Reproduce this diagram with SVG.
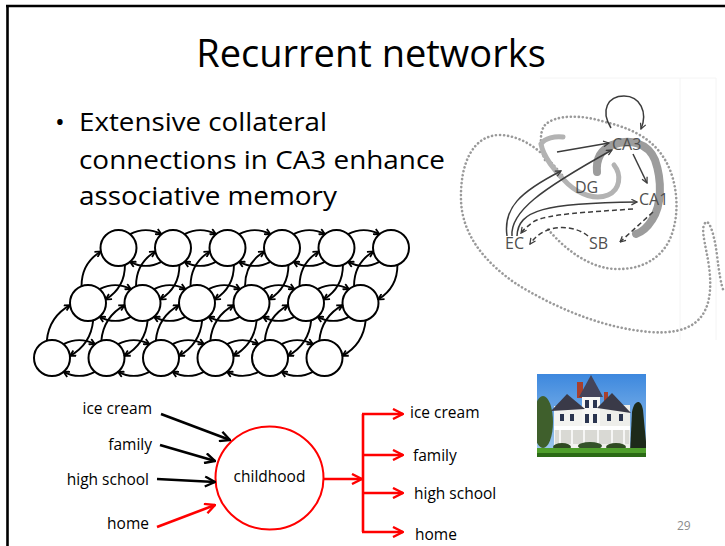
<svg xmlns="http://www.w3.org/2000/svg" width="725" height="546" viewBox="0 0 725 546">
<defs>
<style>
.txt{font-family:'Open Sans','Liberation Sans',sans-serif;fill:#000}
.lbl{font-family:'Open Sans','Liberation Sans',sans-serif;font-size:15.5px;fill:#000}
.hipt{font-family:'Open Sans','Liberation Sans',sans-serif;font-size:16px;fill:#4f4f4f}
.node circle{fill:#fff;stroke:#000;stroke-width:2}
.net path{fill:none;stroke:#000;stroke-width:1.9;marker-end:url(#an)}
.dot{fill:none;stroke:#9a9a9a;stroke-width:2.6;stroke-linecap:round;stroke-dasharray:0.1 3.9}
.ha{fill:none;stroke:#3c3c3c;stroke-width:1.5;marker-end:url(#ah)}
.hd{fill:none;stroke:#3c3c3c;stroke-width:1.5;stroke-dasharray:5 3;marker-end:url(#ah)}
.bk{fill:none;stroke:#000;stroke-width:2.6;marker-end:url(#ab)}
.rd{fill:none;stroke:#f00;stroke-width:2.6;marker-end:url(#ar)}
</style>
<marker id="an" viewBox="0 0 10 10" refX="9" refY="5" markerWidth="7.5" markerHeight="7.5" markerUnits="userSpaceOnUse" orient="auto"><path d="M1.5,1 L9,5 L1.5,9" fill="none" stroke="#000" stroke-width="2.4"/></marker>
<marker id="ab" viewBox="0 0 12 12" refX="11" refY="6" markerWidth="12" markerHeight="12" markerUnits="userSpaceOnUse" orient="auto"><path d="M1,1 L11,6 L1,11" fill="none" stroke="#000" stroke-width="2.4"/></marker>
<marker id="ar" viewBox="0 0 12 12" refX="11" refY="6" markerWidth="12" markerHeight="12" markerUnits="userSpaceOnUse" orient="auto"><path d="M1,1 L11,6 L1,11" fill="none" stroke="#f00" stroke-width="2.4"/></marker>
<marker id="ah" viewBox="0 0 10 10" refX="9" refY="5" markerWidth="7" markerHeight="7" markerUnits="userSpaceOnUse" orient="auto"><path d="M1,1 L9,5 L1,9" fill="none" stroke="#3c3c3c" stroke-width="1.8"/></marker>
<linearGradient id="sky" x1="0" y1="0" x2="0" y2="1"><stop offset="0" stop-color="#3d88de"/><stop offset="1" stop-color="#a6cdef"/></linearGradient>
<clipPath id="photoclip"><rect x="537" y="374" width="109" height="83"/></clipPath>
</defs>
<rect width="725" height="546" fill="#fff"/>
<!-- slide border -->
<path d="M6,6 H725 M7.5,6 V546" fill="none" stroke="#000" stroke-width="2.6"/>

<!-- title and bullet -->
<text class="txt" x="371" y="67" font-size="38" text-anchor="middle">Recurrent networks</text>
<text class="txt" x="55" y="131" font-size="26">•</text>
<text class="txt" x="79" y="131" font-size="26" textLength="248" lengthAdjust="spacingAndGlyphs">Extensive collateral</text>
<text class="txt" x="79" y="169" font-size="26" textLength="366" lengthAdjust="spacingAndGlyphs">connections in CA3 enhance</text>
<text class="txt" x="79" y="205" font-size="26" textLength="258" lengthAdjust="spacingAndGlyphs">associative memory</text>

<!-- hippocampus figure -->
<g id="hippocampus">
<path d="M540,78 H716 M680,78 V340 M716,78 V340" fill="none" stroke="#f4f4f4" stroke-width="1"/>
<path class="dot" d="M562,175 C548,158 528,136 500,135 C472,135 460,165 461,200 C462,235 485,262 515,283 C550,305 600,328 650,332 C690,335 708,320 710,290 C712,262 700,235 704,225 C708,215 714,232 717,255 C719,272 721,285 724,292"/>
<path class="dot" d="M545,160 C540,148 539,132 545,125 C555,115 580,114 605,122 C640,130 660,145 670,170 C678,190 680,220 668,243 C658,260 640,270 615,269 C590,268 565,250 547,228"/>
<path d="M563,137 C555,136 545,138 541,144 C543,156 555,172 568,184 C580,195 596,200 608,195 C620,190 622,175 614,165" fill="none" stroke="#b3b3b3" stroke-width="5" stroke-linecap="round"/>
<path d="M597,172 C596,160 600,150 612,145 C630,138 648,143 655,160 C662,180 662,205 652,220 C647,228 642,232 636,234" fill="none" stroke="#9c9c9c" stroke-width="8" stroke-linecap="round"/>
<path class="ha" d="M557,152 L609,143"/>
<path class="ha" d="M633,154 L647,183"/>
<path class="ha" d="M507,236 C503,208 520,192 561,171"/>
<path class="ha" d="M512,236 C510,212 540,190 612,150"/>
<path class="ha" d="M517,236 C518,210 545,203 637,202"/>
<path class="hd" d="M633,209 C590,212 545,214 533,222 C528,226 524,229 521,233"/>
<path class="hd" d="M588,236 C575,225 545,222 530,244"/>
<path class="hd" d="M653,212 L620,242"/>
<path class="ha" d="M611,128 C600,110 608,96 624,96 C640,96 648,112 641,129"/>
<text class="hipt" x="612" y="150">CA3</text>
<text class="hipt" x="575" y="193">DG</text>
<text class="hipt" x="639" y="205">CA1</text>
<text class="hipt" x="505" y="249">EC</text>
<text class="hipt" x="589" y="249">SB</text>
</g>

<!-- network nodes -->
<g class="node">
<g id="t1"><circle cx="118.5" cy="248" r="18"/></g>
<g id="t2"><circle cx="173" cy="248" r="18"/></g>
<g id="t3"><circle cx="227.5" cy="248" r="18"/></g>
<g id="t4"><circle cx="282" cy="248" r="18"/></g>
<g id="t5"><circle cx="336.5" cy="248" r="18"/></g>
<g id="t6"><circle cx="391" cy="248" r="18"/></g>
<g id="m1"><circle cx="88" cy="303" r="18"/></g>
<g id="m2"><circle cx="142.5" cy="303" r="18"/></g>
<g id="m3"><circle cx="197" cy="303" r="18"/></g>
<g id="m4"><circle cx="251.5" cy="303" r="18"/></g>
<g id="m5"><circle cx="306" cy="303" r="18"/></g>
<g id="m6"><circle cx="360.5" cy="303" r="18"/></g>
<g id="b1"><circle cx="52" cy="358" r="18"/></g>
<g id="b2"><circle cx="106.5" cy="358" r="18"/></g>
<g id="b3"><circle cx="161" cy="358" r="18"/></g>
<g id="b4"><circle cx="215.5" cy="358" r="18"/></g>
<g id="b5"><circle cx="270" cy="358" r="18"/></g>
<g id="b6"><circle cx="324.5" cy="358" r="18"/></g>
</g>

<!-- network connectors -->
<g id="net-connectors" class="net">
<g transform="translate(118.5,248)"><path d="M11.6,-13.8Q27.25,-22 42.9,-13.8"/><path d="M42.9,13.8Q27.25,22 11.6,13.8"/></g>
<g transform="translate(173,248)"><path d="M11.6,-13.8Q27.25,-22 42.9,-13.8"/><path d="M42.9,13.8Q27.25,22 11.6,13.8"/></g>
<g transform="translate(227.5,248)"><path d="M11.6,-13.8Q27.25,-22 42.9,-13.8"/><path d="M42.9,13.8Q27.25,22 11.6,13.8"/></g>
<g transform="translate(282,248)"><path d="M11.6,-13.8Q27.25,-22 42.9,-13.8"/><path d="M42.9,13.8Q27.25,22 11.6,13.8"/></g>
<g transform="translate(336.5,248)"><path d="M11.6,-13.8Q27.25,-22 42.9,-13.8"/><path d="M42.9,13.8Q27.25,22 11.6,13.8"/></g>
<g transform="translate(88,303)"><path d="M11.6,-13.8Q27.25,-22 42.9,-13.8"/><path d="M42.9,13.8Q27.25,22 11.6,13.8"/></g>
<g transform="translate(142.5,303)"><path d="M11.6,-13.8Q27.25,-22 42.9,-13.8"/><path d="M42.9,13.8Q27.25,22 11.6,13.8"/></g>
<g transform="translate(197,303)"><path d="M11.6,-13.8Q27.25,-22 42.9,-13.8"/><path d="M42.9,13.8Q27.25,22 11.6,13.8"/></g>
<g transform="translate(251.5,303)"><path d="M11.6,-13.8Q27.25,-22 42.9,-13.8"/><path d="M42.9,13.8Q27.25,22 11.6,13.8"/></g>
<g transform="translate(306,303)"><path d="M11.6,-13.8Q27.25,-22 42.9,-13.8"/><path d="M42.9,13.8Q27.25,22 11.6,13.8"/></g>
<g transform="translate(52,358)"><path d="M11.6,-13.8Q27.25,-22 42.9,-13.8"/><path d="M42.9,13.8Q27.25,22 11.6,13.8"/></g>
<g transform="translate(106.5,358)"><path d="M11.6,-13.8Q27.25,-22 42.9,-13.8"/><path d="M42.9,13.8Q27.25,22 11.6,13.8"/></g>
<g transform="translate(161,358)"><path d="M11.6,-13.8Q27.25,-22 42.9,-13.8"/><path d="M42.9,13.8Q27.25,22 11.6,13.8"/></g>
<g transform="translate(215.5,358)"><path d="M11.6,-13.8Q27.25,-22 42.9,-13.8"/><path d="M42.9,13.8Q27.25,22 11.6,13.8"/></g>
<g transform="translate(270,358)"><path d="M11.6,-13.8Q27.25,-22 42.9,-13.8"/><path d="M42.9,13.8Q27.25,22 11.6,13.8"/></g>
<g transform="translate(52,358) rotate(-56.8)"><path d="M11.6,-13.8Q32.85,-25 54.1,-13.8"/><path d="M54.1,13.8Q32.85,25 11.6,13.8"/></g>
<g transform="translate(106.5,358) rotate(-56.8)"><path d="M11.6,-13.8Q32.85,-25 54.1,-13.8"/><path d="M54.1,13.8Q32.85,25 11.6,13.8"/></g>
<g transform="translate(161,358) rotate(-56.8)"><path d="M11.6,-13.8Q32.85,-25 54.1,-13.8"/><path d="M54.1,13.8Q32.85,25 11.6,13.8"/></g>
<g transform="translate(215.5,358) rotate(-56.8)"><path d="M11.6,-13.8Q32.85,-25 54.1,-13.8"/><path d="M54.1,13.8Q32.85,25 11.6,13.8"/></g>
<g transform="translate(270,358) rotate(-56.8)"><path d="M11.6,-13.8Q32.85,-25 54.1,-13.8"/><path d="M54.1,13.8Q32.85,25 11.6,13.8"/></g>
<g transform="translate(324.5,358) rotate(-56.8)"><path d="M11.6,-13.8Q32.85,-25 54.1,-13.8"/><path d="M54.1,13.8Q32.85,25 11.6,13.8"/></g>
<g transform="translate(88,303) rotate(-61)"><path d="M11.6,-13.8Q31.45,-25 51.3,-13.8"/><path d="M51.3,13.8Q31.45,25 11.6,13.8"/></g>
<g transform="translate(142.5,303) rotate(-61)"><path d="M11.6,-13.8Q31.45,-25 51.3,-13.8"/><path d="M51.3,13.8Q31.45,25 11.6,13.8"/></g>
<g transform="translate(197,303) rotate(-61)"><path d="M11.6,-13.8Q31.45,-25 51.3,-13.8"/><path d="M51.3,13.8Q31.45,25 11.6,13.8"/></g>
<g transform="translate(251.5,303) rotate(-61)"><path d="M11.6,-13.8Q31.45,-25 51.3,-13.8"/><path d="M51.3,13.8Q31.45,25 11.6,13.8"/></g>
<g transform="translate(306,303) rotate(-61)"><path d="M11.6,-13.8Q31.45,-25 51.3,-13.8"/><path d="M51.3,13.8Q31.45,25 11.6,13.8"/></g>
<g transform="translate(360.5,303) rotate(-61)"><path d="M11.6,-13.8Q31.45,-25 51.3,-13.8"/><path d="M51.3,13.8Q31.45,25 11.6,13.8"/></g>
</g>

<!-- association diagram -->
<g id="in-icecream"><text class="lbl" x="152" y="414" text-anchor="end">ice cream</text></g>
<g id="in-family"><text class="lbl" x="152" y="450" text-anchor="end">family</text></g>
<g id="in-highschool"><text class="lbl" x="149" y="485" text-anchor="end">high school</text></g>
<g id="in-home"><text class="lbl" x="149" y="529" text-anchor="end">home</text></g>
<g id="childhood"><ellipse cx="269.5" cy="478" rx="54" ry="51.5" fill="none" stroke="#f00" stroke-width="2"/><text class="lbl" x="269.5" y="482" text-anchor="middle">childhood</text></g>
<g id="out-icecream"><text class="lbl" x="410" y="418">ice cream</text></g>
<g id="out-family"><text class="lbl" x="413" y="461">family</text></g>
<g id="out-highschool"><text class="lbl" x="414" y="499">high school</text></g>
<g id="out-home"><text class="lbl" x="415" y="540">home</text></g>
<g id="assoc-connectors">
<path class="bk" d="M161,414 L230,440"/>
<path class="bk" d="M160,445 L215,461"/>
<path class="bk" d="M157,479 L215,482"/>
<path class="rd" d="M157,527 L215,505"/>
<path class="rd" d="M323,479 L362,479"/>
<path d="M363,414 V532" fill="none" stroke="#f00" stroke-width="2.6"/>
<path class="rd" d="M362,414 H403"/>
<path class="rd" d="M362,455 H403"/>
<path class="rd" d="M362,493 H403"/>
<path class="rd" d="M362,532 H403"/>
</g>

<!-- house photo -->
<g id="house-photo" clip-path="url(#photoclip)">
<rect x="537" y="374" width="109" height="83" fill="url(#sky)"/>
<ellipse cx="543" cy="422" rx="10" ry="26" fill="#3f5f2c"/>
<path d="M630,452 L632,412 C634,400 641,398 643,410 L647,452 Z" fill="#1d2a1a"/>
<rect x="577" y="382" width="6" height="16" fill="#a8402e"/>
<rect x="604" y="392" width="4" height="10" fill="#a8402e"/>
<rect x="554" y="406" width="28" height="42" fill="#f3f3f0"/>
<rect x="600" y="405" width="30" height="43" fill="#eeeeea"/>
<rect x="582" y="394" width="18" height="52" fill="#f7f7f5"/>
<path d="M551,411 L567,394 L585,409 Z" fill="#3a3a48"/>
<path d="M579,397 L591,375 L603,397 Z" fill="#44445a"/>
<path d="M597,408 L612,393 L631,413 Z" fill="#3a3a48"/>
<rect x="585" y="400" width="4" height="8" fill="#2b3550"/>
<rect x="593" y="400" width="4" height="8" fill="#2b3550"/>
<rect x="585" y="414" width="4" height="9" fill="#2b3550"/>
<rect x="593" y="414" width="4" height="9" fill="#2b3550"/>
<rect x="560" y="414" width="4" height="7" fill="#2b3550"/>
<rect x="570" y="414" width="4" height="7" fill="#2b3550"/>
<rect x="607" y="414" width="4" height="7" fill="#2b3550"/>
<rect x="619" y="414" width="4" height="7" fill="#2b3550"/>
<rect x="555" y="430" width="74" height="14" fill="#d9d9d4"/>
<rect x="554" y="426" width="76" height="4" fill="#ffffff"/>
<path d="M560,430 V444 M572,430 V444 M584,430 V444 M598,430 V444 M612,430 V444 M624,430 V444" stroke="#ffffff" stroke-width="1.5"/>
<ellipse cx="562" cy="447" rx="9" ry="4" fill="#2f4a22"/>
<ellipse cx="590" cy="446" rx="12" ry="4" fill="#34522a"/>
<ellipse cx="616" cy="447" rx="10" ry="4" fill="#2f4a22"/>
<rect x="537" y="448" width="109" height="5" fill="#4f9f2c"/>
<rect x="537" y="453" width="109" height="4" fill="#2b6a16"/>
</g>

<text x="677" y="530" font-family="'Open Sans','Liberation Sans',sans-serif" font-size="12" fill="#8c8c8c">29</text>
</svg>
